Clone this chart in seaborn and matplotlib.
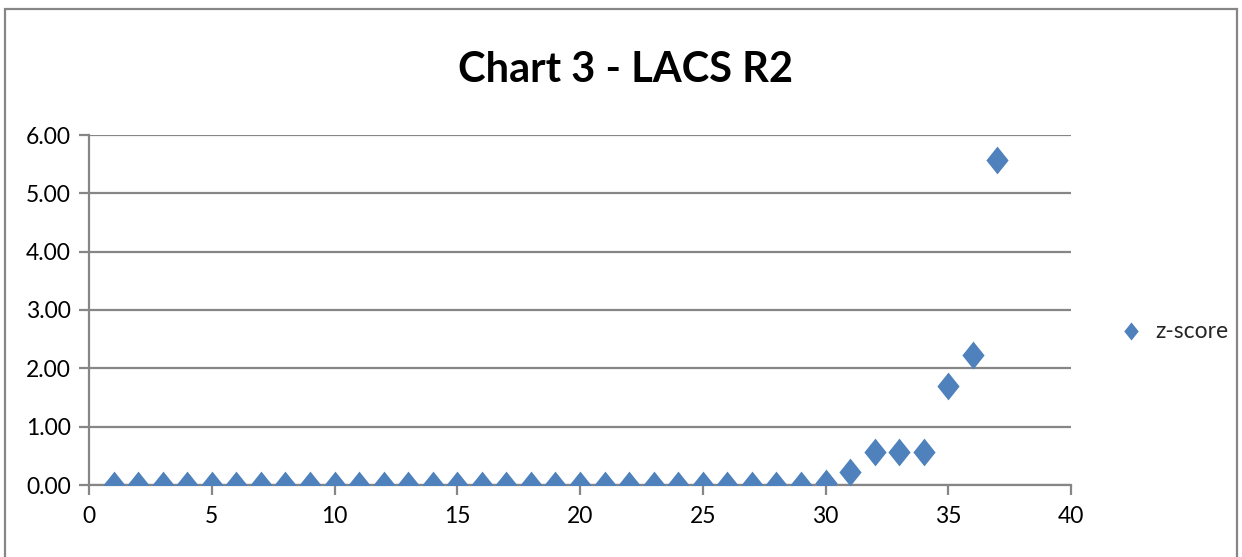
import numpy as np
import pandas as pd
import seaborn as sns
import matplotlib.pyplot as plt
from matplotlib.patches import Rectangle

# data
x_idx = list(range(1, 38))
z_score = [0.0] * 29 + [0.03, 0.23, 0.57, 0.57, 0.57, 1.69, 2.23, 5.57]
x_ticks = [0, 5, 10, 15, 20, 25, 30, 35, 40]
y_ticks = [0, 1, 2, 3, 4, 5, 6]

blue = "#4F81BD"
gray = "#868686"

sns.set_theme(style="white")
plt.rcParams['font.family'] = ['Lato', 'DejaVu Sans']

df = pd.DataFrame({"x": x_idx, "z-score": z_score})

fig = plt.figure(figsize=(12.42, 5.57), dpi=100)
ax = fig.add_axes([89 / 1242, 1 - 485 / 557, (1071 - 89) / 1242, (485 - 135) / 557])

# slightly tall diamond like the Excel marker
diamond = [(0, 1), (0.8, 0), (0, -1), (-0.8, 0), (0, 1)]
sns.scatterplot(data=df, x="x", y="z-score", ax=ax, marker=diamond, s=400,
                color=blue, edgecolor=blue, linewidth=0, label="z-score", zorder=3)

ax.set_xlim(0, 40)
ax.set_ylim(0, 6)
ax.set_xticks(x_ticks)
ax.set_yticks(y_ticks)
ax.set_yticklabels([f"{v:.2f}" for v in y_ticks])
ax.set_xlabel("")
ax.set_ylabel("")

ax.yaxis.grid(True, color=gray, linewidth=1.6)
ax.xaxis.grid(False)
for side in ["top", "right"]:
    ax.spines[side].set_visible(False)
for side in ["left", "bottom"]:
    ax.spines[side].set_color(gray)
    ax.spines[side].set_linewidth(1.6)

ax.tick_params(axis="both", which="major", length=7, width=1.6, color=gray,
               direction="out", labelsize=16.5, labelcolor="black")
ax.tick_params(axis="x", pad=8)
ax.tick_params(axis="y", pad=6)
ax.tick_params(bottom=True, left=True)

fig.text(626 / 1242, 1 - 70 / 557, "Chart 3 - LACS R2", ha="center", va="center",
         fontsize=30, fontweight="bold", color="black")

leg = ax.legend(loc="center left", bbox_to_anchor=(1.017, 0.44), frameon=False,
                fontsize=16.5, handletextpad=0.05, markerscale=0.65)

# outer chart border
fig.patches.append(Rectangle((5 / 1242, -0.02), 1232 / 1242, 1 - 9 / 557 + 0.02,
                             transform=fig.transFigure, fill=False,
                             edgecolor=gray, linewidth=1.6))

fig.savefig("out.png", dpi=100)
